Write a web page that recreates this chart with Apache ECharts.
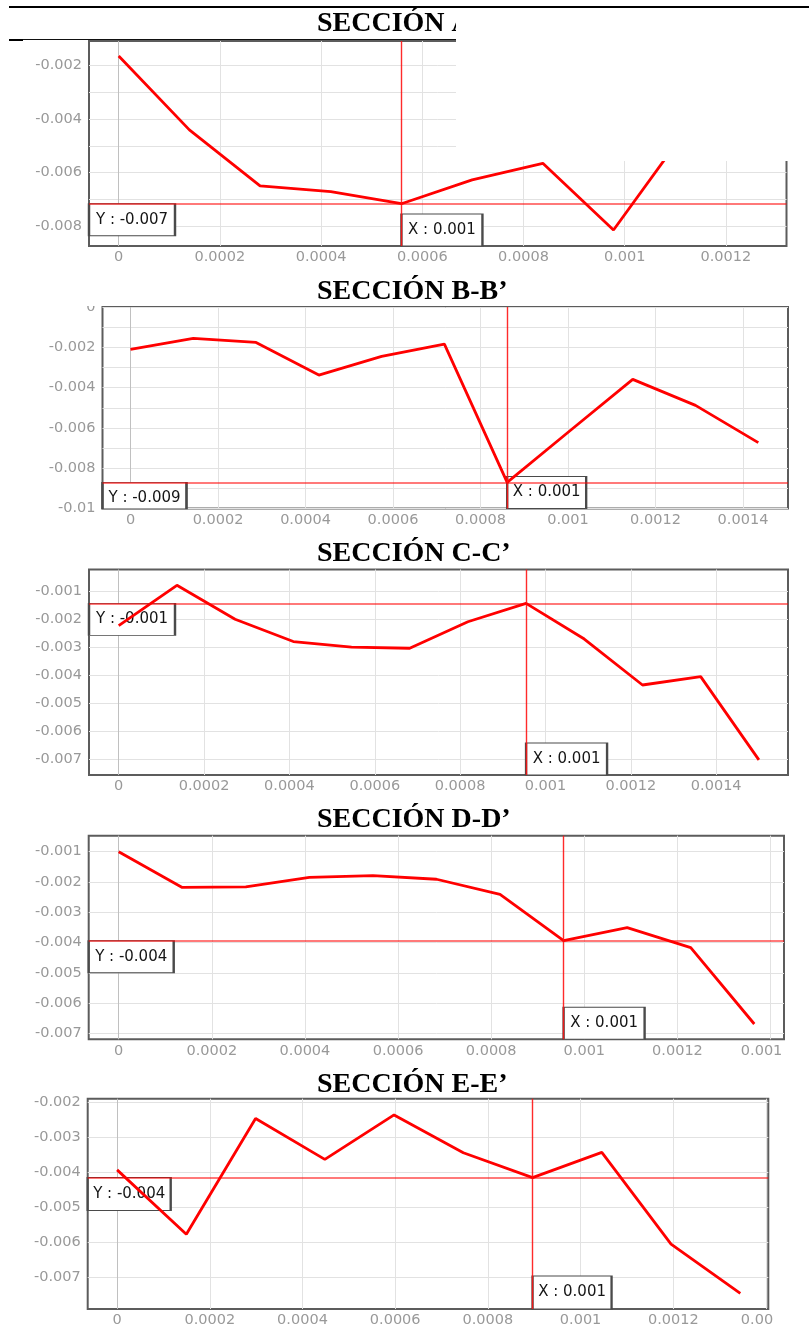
<!DOCTYPE html>
<html>
<head>
<meta charset="utf-8">
<script src="https://cdn.jsdelivr.net/npm/echarts@6/dist/echarts.min.js"></script>
<style>
html,body{margin:0;padding:0;background:#fff;}
#chart{width:809px;height:1333px;}
</style>
</head>
<body>
<div id="chart"></div>
<script>
// ---------------- DATA ----------------
const titles = ['SECCIÓN A-A’', 'SECCIÓN B-B’', 'SECCIÓN C-C’', 'SECCIÓN D-D’', 'SECCIÓN E-E’'];

const xA = [0, 0.0001397, 0.0002794, 0.0004191, 0.0005588, 0.0006985, 0.0008382, 0.0009779, 0.0011176, 0.0012573];
const yA = [-0.00164, -0.00440, -0.00649, -0.00671, -0.00716, -0.00627, -0.00565, -0.00814, -0.00450, -0.00350];

const xB = [0, 0.0001435, 0.000287, 0.0004305, 0.000574, 0.0007175, 0.000861, 0.0010045, 0.001148, 0.0012915, 0.001435];
const yB = [-0.00210, -0.00156, -0.00176, -0.00338, -0.00245, -0.00184, -0.00870, -0.00614, -0.00359, -0.00488, -0.00673];

const xC = [0, 0.0001364, 0.0002727, 0.0004091, 0.0005455, 0.0006818, 0.0008182, 0.0009545, 0.0010909, 0.0012273, 0.0013636, 0.0015];
const yC = [-0.00222, -0.00077, -0.00199, -0.00279, -0.00299, -0.00303, -0.00208, -0.00142, -0.00270, -0.00435, -0.00405, -0.00704];

const xD = [0, 0.0001365, 0.000273, 0.0004095, 0.000546, 0.0006825, 0.000819, 0.0009555, 0.001092, 0.0012285, 0.001365];
const yD = [-0.00100, -0.00218, -0.00216, -0.00185, -0.00179, -0.00191, -0.00241, -0.00394, -0.00351, -0.00417, -0.00669];

const xE = [0, 0.0001494, 0.0002988, 0.0004482, 0.0005976, 0.000747, 0.0008964, 0.0010458, 0.0011952, 0.0013446];
const yE = [-0.00392, -0.00576, -0.00245, -0.00362, -0.00235, -0.00343, -0.00414, -0.00342, -0.00604, -0.00745];

// index of the point where the crosshair sits
const crossIndex = [4, 6, 7, 7, 6];

// tick values / labels
const xGridA = [0, 0.0002, 0.0004, 0.0006, 0.0008, 0.001, 0.0012];
const xGridB = [0, 0.0002, 0.0004, 0.0006, 0.0008, 0.001, 0.0012, 0.0014];
const xLabelsA = ['0', '0.0002', '0.0004', '0.0006', '0.0008', '0.001', '0.0012'];
const xLabelsB = ['0', '0.0002', '0.0004', '0.0006', '0.0008', '0.001', '0.0012', '0.0014'];
const xLabelsC = ['0', '0.0002', '0.0004', '0.0006', '0.0008', '0.001', '0.0012', '0.0014'];
const xLabelsD = ['0', '0.0002', '0.0004', '0.0006', '0.0008', '0.001', '0.0012', '0.001'];
const xLabelsE = ['0', '0.0002', '0.0004', '0.0006', '0.0008', '0.001', '0.0012', '0.00'];

const yGridA = [-0.002, -0.003, -0.004, -0.005, -0.006, -0.007, -0.008];
const yLabelValsA = [-0.002, -0.004, -0.006, -0.008];
const yLabelsA = ['-0.002', '-0.004', '-0.006', '-0.008'];
const yGridB = [0, -0.001, -0.002, -0.003, -0.004, -0.005, -0.006, -0.007, -0.008, -0.009, -0.01];
const yLabelValsB = [0, -0.002, -0.004, -0.006, -0.008, -0.01];
const yLabelsB = ['0', '-0.002', '-0.004', '-0.006', '-0.008', '-0.01'];
const yGridC = [-0.001, -0.002, -0.003, -0.004, -0.005, -0.006, -0.007];
const yLabelsC = ['-0.001', '-0.002', '-0.003', '-0.004', '-0.005', '-0.006', '-0.007'];
const yGridD = [-0.001, -0.002, -0.003, -0.004, -0.005, -0.006, -0.007];
const yLabelsD = ['-0.001', '-0.002', '-0.003', '-0.004', '-0.005', '-0.006', '-0.007'];
const yGridE = [-0.002, -0.003, -0.004, -0.005, -0.006, -0.007];
const yLabelsE = ['-0.002', '-0.003', '-0.004', '-0.005', '-0.006', '-0.007'];

// ---------------- LAYOUT / STYLE ----------------
const panels = [
  {xs: xA, ys: yA, xGrid: xGridA, xLabels: xLabelsA, yGrid: yGridA, yLabelVals: yLabelValsA, yLabels: yLabelsA,
   left: 89, top: 41, width: 697.5, height: 205, xMin: -0.0000587, xMax: 0.0013198, yMin: -0.00874, yMax: -0.001077,
   titleY: 24, yBox: [86, 32, 0], xBox: [81, 32], cut: -1},
  {xs: xB, ys: yB, xGrid: xGridB, xLabels: xLabelsB, yGrid: yGridB, yLabelVals: yLabelValsB, yLabels: yLabelsB,
   left: 102.5, top: 307, width: 685.5, height: 201.5, xMin: -0.000064, xMax: 0.0015029, yMin: -0.01, yMax: 0,
   titleY: 292, yBox: [84, 26.5, 2.5], xBox: [79, 32], cut: -1},
  {xs: xC, ys: yC, xGrid: xGridB, xLabels: xLabelsC, yGrid: yGridC, yLabelVals: yGridC, yLabels: yLabelsC,
   left: 89, top: 569.5, width: 699, height: 205.5, xMin: -0.0000696, xMax: 0.0015682, yMin: -0.007582, yMax: -0.000203,
   titleY: 554, yBox: [86, 32, 0], xBox: [81, 32], cut: -1},
  {xs: xD, ys: yD, xGrid: xGridB, xLabels: xLabelsD, yGrid: yGridD, yLabelVals: yGridD, yLabels: yLabelsD,
   left: 88.7, top: 835.7, width: 695.3, height: 203.6, xMin: -0.0000644, xMax: 0.0014288, yMin: -0.0071955, yMax: -0.000472,
   titleY: 820, yBox: [85, 32, 0], xBox: [81, 32], cut: 7},
  {xs: xE, ys: yE, xGrid: xGridB, xLabels: xLabelsE, yGrid: yGridE, yLabelVals: yGridE, yLabels: yLabelsE,
   left: 87.7, top: 1098.7, width: 680.6, height: 210.3, xMin: -0.0000634, xMax: 0.001405, yMin: -0.007894, yMax: -0.001886,
   titleY: 1084.5, yBox: [83, 33, 0], xBox: [79, 33], cut: 7}
];

const LABEL_FONT = 'DejaVu Sans';
const LABEL_SIZE = 14.5;
const LABEL_COLOR = '#999999';
const GRID_COLOR = '#e2e2e2';
const ZERO_COLOR = '#c0c0c0';
const RED = '#ff0000';

function lookup(vals, v) {
  for (let i = 0; i < vals.length; i++) {
    if (Math.abs(vals[i] - v) < 1e-9) return i;
  }
  return -1;
}

const grids = [], xAxes = [], yAxes = [], series = [], graphics = [];

panels.forEach((p, i) => {
  grids.push({
    left: p.left, top: p.top, width: p.width, height: p.height,
    show: true, borderColor: '#5c5c5c', borderWidth: 2, backgroundColor: 'transparent'
  });
  const xColors = p.xGrid.map((v) => v === 0 ? ZERO_COLOR : GRID_COLOR);
  xAxes.push({
    type: 'value', gridIndex: i, min: p.xMin, max: p.xMax,
    axisLine: {show: false},
    axisTick: {show: false, customValues: p.xGrid},
    splitLine: {show: true, lineStyle: {color: xColors, width: 1}},
    axisLabel: {
      customValues: p.xGrid, margin: 4, color: LABEL_COLOR, fontSize: LABEL_SIZE, fontFamily: LABEL_FONT,
      hideOverlap: false, showMinLabel: true, showMaxLabel: true,
      formatter: (v) => {
        const k = lookup(p.xGrid, v);
        if (k < 0) return '';
        if (k === p.cut) return '{cut|' + p.xLabels[k] + '}';
        return p.xLabels[k];
      },
      rich: {
        cut: {color: LABEL_COLOR, fontSize: LABEL_SIZE, fontFamily: LABEL_FONT, padding: [0, 18, 0, 0]}
      }
    }
  });
  yAxes.push({
    type: 'value', gridIndex: i, min: p.yMin, max: p.yMax,
    axisLine: {show: false},
    axisTick: {show: false, customValues: p.yGrid},
    splitLine: {show: true, lineStyle: {color: GRID_COLOR, width: 1}},
    axisLabel: {
      customValues: p.yLabelVals, margin: 7, color: LABEL_COLOR, fontSize: LABEL_SIZE, fontFamily: LABEL_FONT,
      hideOverlap: false, showMinLabel: true, showMaxLabel: true,
      formatter: (v) => {
        const k = lookup(p.yLabelVals, v);
        return k < 0 ? '' : p.yLabels[k];
      }
    }
  });

  const ci = crossIndex[i];
  const cx = p.xs[ci], cy = p.ys[ci];

  // crosshair value boxes (under the data line)
  series.push({
    type: 'scatter', xAxisIndex: i, yAxisIndex: i, z: 1, silent: true, clip: false, animation: false,
    itemStyle: {color: '#ffffff', borderColor: '#4a4a4a', borderWidth: 1.5, opacity: 1},
    label: {show: true, position: 'inside', color: '#151515', fontSize: 15, fontFamily: LABEL_FONT},
    data: [
      {value: [p.xMin, cy], symbol: 'rect', symbolSize: [p.yBox[0], p.yBox[1]], symbolOffset: [p.yBox[0] / 2, p.yBox[1] / 2],
       label: {formatter: 'Y : ' + cy.toFixed(3), offset: [0, p.yBox[2]]}},
      {value: [cx, p.yMin], symbol: 'rect', symbolSize: [p.xBox[0], p.xBox[1]], symbolOffset: [p.xBox[0] / 2, -p.xBox[1] / 2],
       label: {formatter: 'X : ' + cx.toFixed(3)}}
    ]
  });

  // vertical crosshair line
  series.push({
    type: 'line', xAxisIndex: i, yAxisIndex: i, z: 2, silent: true, animation: false,
    data: [], itemStyle: {color: RED},
    markLine: {
      silent: true, symbol: ['none', 'none'], animation: false, label: {show: false},
      lineStyle: {color: 'rgb(255,20,20)', width: 1.4, type: 'solid', opacity: 0.9},
      data: [[{coord: [cx, p.yMin]}, {coord: [cx, p.yMax]}]]
    }
  });
  // horizontal crosshair line
  series.push({
    type: 'line', xAxisIndex: i, yAxisIndex: i, z: 2, silent: true, animation: false,
    data: [], itemStyle: {color: RED},
    markLine: {
      silent: true, symbol: ['none', 'none'], animation: false, label: {show: false},
      lineStyle: {color: RED, width: 1.6, type: 'solid', opacity: 0.7},
      data: [[{coord: [p.xMin, cy]}, {coord: [p.xMax, cy]}]]
    }
  });

  // data line
  series.push({
    type: 'line', xAxisIndex: i, yAxisIndex: i, z: 3, silent: true, animation: false,
    symbol: 'none', showSymbol: false,
    itemStyle: {color: RED},
    lineStyle: {color: RED, width: 2.8},
    data: p.xs.map((x, j) => [x, p.ys[j]])
  });

  graphics.push({
    type: 'text', x: 317, y: p.titleY, z: 50,
    style: {text: titles[i], font: 'bold 28px "Liberation Serif"', fill: '#000', align: 'left', verticalAlign: 'middle'}
  });
});

// page decorations around panel A (table rules and white cover)
graphics.push({type: 'line', z: 60, shape: {x1: 9, y1: 7, x2: 809, y2: 7}, style: {stroke: '#000', lineWidth: 2}});
graphics.push({type: 'line', z: 60, shape: {x1: 9, y1: 39.5, x2: 456, y2: 39.5}, style: {stroke: '#111', lineWidth: 1}});
graphics.push({type: 'line', z: 60, shape: {x1: 9, y1: 40, x2: 23, y2: 40}, style: {stroke: '#000', lineWidth: 2}});
graphics.push({type: 'rect', z: 100, shape: {x: 456, y: 9, width: 353, height: 152}, style: {fill: '#ffffff'}});
graphics.push({type: 'rect', z: 100, shape: {x: 55, y: 292, width: 46, height: 14}, style: {fill: '#ffffff'}});

const chart = echarts.init(document.getElementById('chart'), null, {renderer: 'canvas'});
chart.setOption({
  animation: false,
  backgroundColor: '#ffffff',
  grid: grids,
  xAxis: xAxes,
  yAxis: yAxes,
  series: series,
  graphic: {elements: graphics}
});
</script>
</body>
</html>
